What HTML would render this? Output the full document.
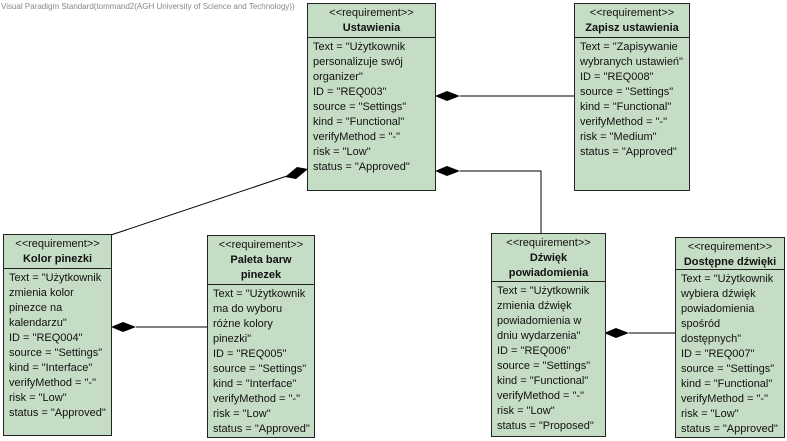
<!DOCTYPE html>
<html><head><meta charset="utf-8"><style>
body{margin:0;width:787px;height:441px;background:#fff;position:relative;overflow:hidden;font-family:"Liberation Sans",Arial,sans-serif;}
.b{position:absolute;background:#c6ddc5;border:1px solid #222;box-sizing:border-box;font-size:11px;color:#111;}
.h{text-align:center;border-bottom:1px solid #222;line-height:15px;padding-top:2px;box-sizing:border-box;}
.h b{display:block;font-size:11px;}
.t{padding:2px 0 0 5px;line-height:15px;white-space:nowrap;}
.wm{position:absolute;left:1px;top:2px;font-size:8px;color:#888;white-space:nowrap;}
</style></head><body>
<div class="wm">Visual Paradigm Standard(tommand2(AGH University of Science and Technology))</div>
<svg width="787" height="441" style="position:absolute;left:0;top:0">
<g stroke="#000" stroke-width="1" fill="none">
<line x1="460" y1="96" x2="574" y2="96"/>
<polyline points="460,171 541,171 541,233"/>
<line x1="111" y1="235" x2="287" y2="176"/>
<line x1="136" y1="327" x2="207" y2="327"/>
<line x1="629" y1="333" x2="675" y2="333"/>
</g>
<g fill="#000">
<polygon points="435,96 447,91 460,96 447,101"/>
<polygon points="435,171 447,166 460,171 447,176"/>
<polygon points="308,169 297,167 285,177 296,179"/>
<polygon points="111,327 123,322 136,327 123,332"/>
<polygon points="604,333 616,328 629,333 616,338"/>
</g>
</svg>
<div class="b" style="left:307px;top:3px;width:129px;height:188px"><div class="h" style="height:34px">&lt;&lt;requirement&gt;&gt;<b>Ustawienia</b></div><div class="t">Text = "Użytkownik<br>personalizuje swój<br>organizer"<br>ID = "REQ003"<br>source = "Settings"<br>kind = "Functional"<br>verifyMethod = "-"<br>risk = "Low"<br>status = "Approved"</div></div>
<div class="b" style="left:574px;top:3px;width:116px;height:188px"><div class="h" style="height:34px">&lt;&lt;requirement&gt;&gt;<b>Zapisz ustawienia</b></div><div class="t">Text = "Zapisywanie<br>wybranych ustawień"<br>ID = "REQ008"<br>source = "Settings"<br>kind = "Functional"<br>verifyMethod = "-"<br>risk = "Medium"<br>status = "Approved"</div></div>
<div class="b" style="left:3px;top:234px;width:109px;height:202px"><div class="h" style="height:34px">&lt;&lt;requirement&gt;&gt;<b>Kolor pinezki</b></div><div class="t">Text = "Użytkownik<br>zmienia kolor<br>pinezce na<br>kalendarzu"<br>ID = "REQ004"<br>source = "Settings"<br>kind = "Interface"<br>verifyMethod = "-"<br>risk = "Low"<br>status = "Approved"</div></div>
<div class="b" style="left:207px;top:235px;width:108px;height:203px"><div class="h" style="height:49px">&lt;&lt;requirement&gt;&gt;<b>Paleta barw<br>pinezek</b></div><div class="t">Text = "Użytkownik<br>ma do wyboru<br>różne kolory<br>pinezki"<br>ID = "REQ005"<br>source = "Settings"<br>kind = "Interface"<br>verifyMethod = "-"<br>risk = "Low"<br>status = "Approved"</div></div>
<div class="b" style="left:491px;top:233px;width:115px;height:204px"><div class="h" style="height:48px">&lt;&lt;requirement&gt;&gt;<b>Dźwięk<br>powiadomienia</b></div><div class="t">Text = "Użytkownik<br>zmienia dźwięk<br>powiadomienia w<br>dniu wydarzenia"<br>ID = "REQ006"<br>source = "Settings"<br>kind = "Functional"<br>verifyMethod = "-"<br>risk = "Low"<br>status = "Proposed"</div></div>
<div class="b" style="left:675px;top:237px;width:110px;height:201px"><div class="h" style="height:32px">&lt;&lt;requirement&gt;&gt;<b>Dostępne dźwięki</b></div><div class="t">Text = "Użytkownik<br>wybiera dźwięk<br>powiadomienia<br>spośród<br>dostępnych"<br>ID = "REQ007"<br>source = "Settings"<br>kind = "Functional"<br>verifyMethod = "-"<br>risk = "Low"<br>status = "Approved"</div></div>
</body></html>
